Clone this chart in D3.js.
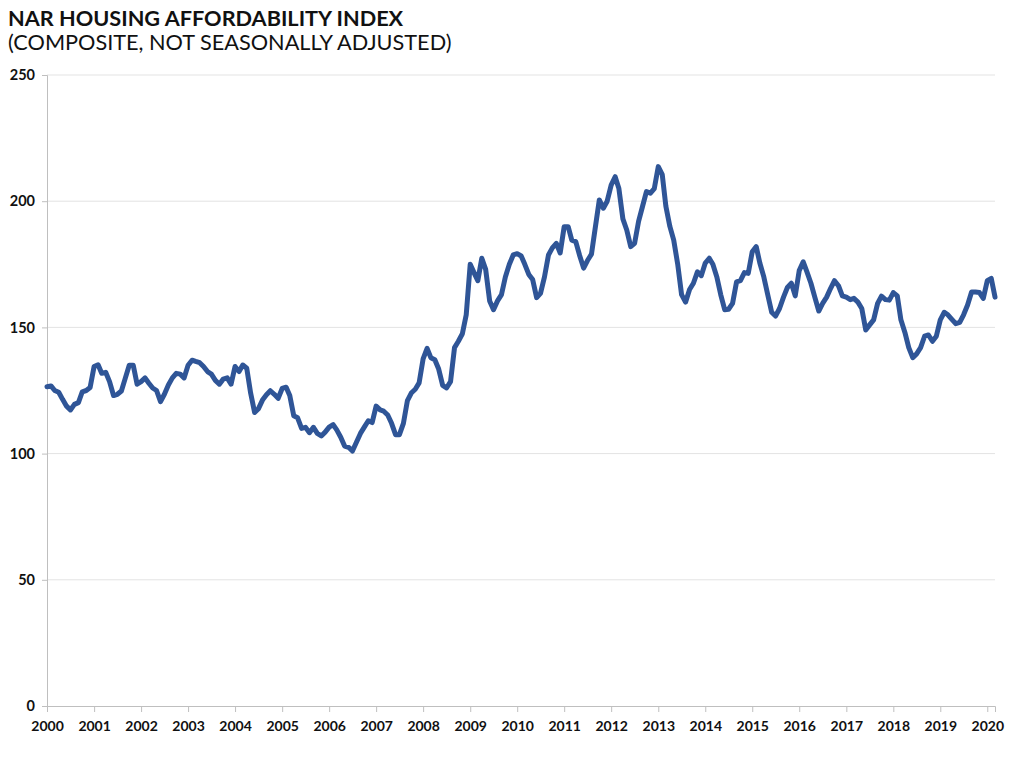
<!DOCTYPE html>
<html>
<head>
<meta charset="utf-8">
<script src="https://cdn.jsdelivr.net/npm/d3@7"></script>
<style>
  body { margin: 0; background: #fff; }
  svg { display: block; font-family: Lato, "Open Sans", sans-serif; }
</style>
</head>
<body>
<svg id="chart" width="1024" height="761"></svg>
<script>
// monthly index values, Jan 2000 .. Mar 2020
const startYear = 2000;
const hai2000 = [126.5, 126.8, 125, 124.3, 121.5, 118.8, 117.3, 119.5, 120.2, 124.5, 125, 126.2];
const hai2001 = [134.5, 135.2, 131.8, 132.2, 128.5, 123, 123.5, 124.8, 130, 135, 135, 127.5];
const hai2002 = [128.5, 130, 128, 126, 125, 120.6, 123.5, 127.2, 130, 131.8, 131.5, 130];
const hai2003 = [135, 137, 136.5, 136, 134.5, 132.5, 131.5, 129, 127.5, 129.5, 130, 127.5];
const hai2004 = [134.5, 132.5, 135.1, 133.8, 124, 116.3, 117.8, 121.2, 123.3, 124.9, 123.5, 121.9];
const hai2005 = [125.8, 126.3, 123, 115, 114.2, 110, 110.4, 108.3, 110.4, 108, 107, 108.5];
const hai2006 = [110.5, 111.5, 109.4, 106.5, 103, 102.5, 101, 104.5, 108, 110.5, 113, 112.3];
const hai2007 = [118.8, 117.3, 116.8, 115.3, 112, 107.5, 107.5, 112, 121, 124, 125.5, 128];
const hai2008 = [137.5, 141.7, 138, 137.2, 133.5, 127, 126, 128.5, 142, 144.5, 147.5, 155];
const hai2009 = [175, 171.5, 168.5, 177.4, 173, 160.5, 157, 160.5, 163, 170, 175, 178.7];
const hai2010 = [179.2, 178.3, 175, 171, 169, 161.8, 163.5, 170, 178.7, 181.5, 183.3, 179.5];
const hai2011 = [189.9, 189.9, 184.6, 184, 178.5, 173.5, 176.5, 179, 190, 200.5, 197.2, 200];
const hai2012 = [206.4, 209.7, 205, 193, 188.6, 182, 183.3, 192, 198, 203.8, 203.2, 205];
const hai2013 = [213.7, 210.5, 198, 190, 184.6, 175, 163, 160, 165, 167.5, 172, 170.5];
const hai2014 = [175.5, 177.4, 175, 170, 163, 157, 157.2, 159.5, 168, 168.5, 171.7, 171.4];
const hai2015 = [180, 182, 175.5, 170, 163, 156, 154.5, 157.5, 162, 165.8, 167.5, 162.5];
const hai2016 = [172.5, 176, 172, 167.5, 162, 156.5, 159.5, 162, 165.5, 168.5, 166.5, 162.5];
const hai2017 = [162, 161, 161.5, 160, 157.5, 149, 151, 153, 159.5, 162.4, 161, 160.8];
const hai2018 = [163.8, 162.5, 153, 148, 142, 138, 139.5, 142, 146.5, 147, 144.5, 146.5];
const hai2019 = [153, 156, 155, 153.2, 151.5, 152, 155, 158.9, 164, 164, 163.8, 161.5];
const hai2020 = [168.5, 169.4, 162];

const yTicks = [0, 50, 100, 150, 200, 250];
const yearTicks = d3.range(2000, 2021);

const title = "NAR HOUSING AFFORDABILITY INDEX";
const subtitle = "(COMPOSITE, NOT SEASONALLY ADJUSTED)";

const values = [].concat(hai2000, hai2001, hai2002, hai2003, hai2004, hai2005,
  hai2006, hai2007, hai2008, hai2009, hai2010, hai2011, hai2012, hai2013,
  hai2014, hai2015, hai2016, hai2017, hai2018, hai2019, hai2020);
const data = values.map((v, i) => ({ date: new Date(startYear, i, 1), value: v }));

const svg = d3.select("#chart");
const margin = { top: 75, right: 29, bottom: 55, left: 47 };
const width = 1024, height = 761;

const x = d3.scaleTime()
  .domain([new Date(2000, 0, 1), data[data.length - 1].date])
  .range([margin.left, width - margin.right]);
const y = d3.scaleLinear()
  .domain([0, 250])
  .range([height - margin.bottom, margin.top]);

// titles
svg.append("text")
  .attr("x", 8).attr("y", 26)
  .attr("font-size", 21.7).attr("font-weight", 700).attr("fill", "#111")
  .text(title);
svg.append("text")
  .attr("x", 8).attr("y", 50)
  .attr("font-size", 21.7).attr("fill", "#111")
  .text(subtitle);

// gridlines
svg.append("g")
  .selectAll("line")
  .data(yTicks.filter(d => d > 0))
  .join("line")
  .attr("x1", margin.left).attr("x2", width - margin.right)
  .attr("y1", d => y(d)).attr("y2", d => y(d))
  .attr("stroke", "#e3e3e3").attr("stroke-width", 1);

// y axis
const yAxis = svg.append("g")
  .attr("transform", `translate(${margin.left},0)`)
  .call(d3.axisLeft(y).tickValues(yTicks).tickSize(5).tickPadding(7));
yAxis.select(".domain").attr("stroke", "#bfbfbf");
yAxis.selectAll(".tick line").attr("stroke", "#bfbfbf");
yAxis.selectAll(".tick text")
  .attr("font-size", 14.5).attr("font-weight", 700).attr("fill", "#111")
  .attr("font-family", "Lato, sans-serif");

// x axis
const xAxis = svg.append("g")
  .attr("transform", `translate(0,${height - margin.bottom})`)
  .call(d3.axisBottom(x)
    .tickValues(yearTicks.map(yr => new Date(yr, 0, 1)))
    .tickFormat(d3.timeFormat("%Y"))
    .tickSize(6).tickPadding(9));
xAxis.select(".domain").attr("stroke", "#bfbfbf");
xAxis.selectAll(".tick line").attr("stroke", "#bfbfbf");
xAxis.selectAll(".tick text")
  .attr("font-size", 14).attr("font-weight", 700).attr("fill", "#111")
  .attr("font-family", "Lato, sans-serif");

// line
const line = d3.line()
  .x(d => x(d.date))
  .y(d => y(d.value))
  .curve(d3.curveLinear);

svg.append("path")
  .datum(data)
  .attr("fill", "none")
  .attr("stroke", "#2f5597")
  .attr("stroke-width", 5)
  .attr("stroke-linejoin", "round")
  .attr("stroke-linecap", "round")
  .attr("d", line);
</script>
</body>
</html>
